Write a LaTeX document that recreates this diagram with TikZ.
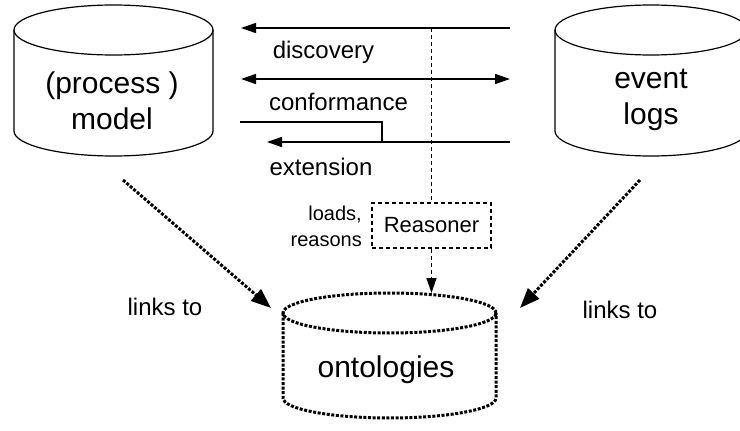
\documentclass[tikz,border=0pt]{standalone}
\usepackage{fontspec}
\setmainfont{Liberation Sans}
\usetikzlibrary{arrows.meta}
\newcommand{\drawcyl}[6]{%
  \draw[#1] (#2,#3) ellipse[x radius=#5pt, y radius=#6pt];
  \draw[#1] (#2-#5,#3) -- (#2-#5,#4) arc[start angle=180,end angle=360,x radius=#5pt,y radius=#6pt] -- (#2+#5,#3);
}
\tikzset{
  solidline/.style={line width=1.5pt, draw=black},
  thinhead/.style={-{Triangle[length=15pt,width=10pt]}},
  dashline/.style={line width=1.5pt, dash pattern=on 4pt off 3pt},
  dotline/.style={line width=3pt, dash pattern=on 3pt off 1.6pt},
  bighead/.style={-{Triangle[length=20pt,width=15pt]}},
  bigtext/.style={font=\fontsize{30}{36}\selectfont, align=center, inner sep=0pt},
  lbl/.style={font=\fontsize{24}{28}\selectfont, inner sep=0pt},
  smalllbl/.style={font=\fontsize{20}{26}\selectfont, inner sep=0pt},
  reasonerbox/.style={draw, dashline, font=\fontsize{22}{26}\selectfont, minimum width=119pt, minimum height=45pt, inner sep=0pt}
}
\begin{document}
\begin{tikzpicture}[x=1pt,y=1pt]
\useasboundingbox (0,0) rectangle (740,-431);
\clip (0,0) rectangle (740,-431);
% cylinders
\drawcyl{solidline, line width=1.2pt}{113.5}{-30}{-131}{99.5}{25}
\drawcyl{solidline, line width=1.2pt}{651}{-30}{-131}{96}{25}
\drawcyl{dotline}{389.5}{-313}{-398}{106.5}{20}
\node[bigtext] (pm) at (112,-100.5) {(process )\\model};
\node[bigtext] (el) at (651,-100) {event\\logs};
\node[bigtext] (on) at (386,-370) {ontologies};
% arrows between
\coordinate (d1) at (510,-28);
\coordinate (d2) at (241,-28);
\draw[solidline, thinhead] (d1) -- (d2);
\node[lbl] (disc) at (323.5,-52) {discovery};
\coordinate (c1) at (241,-79);
\coordinate (c2) at (510,-79);
\draw[solidline, {Triangle[length=15pt,width=10pt]}-{Triangle[length=15pt,width=10pt]}] (c1) -- (c2);
\node[lbl] (conf) at (338.5,-102) {conformance};
\coordinate (f1) at (240,-122);
\coordinate (f2) at (382,-122);
\coordinate (f3) at (382,-142);
\draw[solidline] (f1) -- (f2) -- (f3);
\coordinate (e1) at (510,-142);
\coordinate (e2) at (267,-142);
\draw[solidline, thinhead] (e1) -- (e2);
\node[lbl] (ext) at (321,-167) {extension};
% reasoner
\node[reasonerbox] (rs) at (431.5,-225.5) {Reasoner};
\coordinate (tap) at (431.5,-28);
\draw[dashline] (tap) -- (rs.north);
\coordinate (ot) at (431.5,-293);
\draw[dashline, thinhead] (rs.south) -- (ot);
\node[smalllbl, align=right, anchor=east] (lr) at (362,-226) {loads,\\reasons};
% links
\coordinate (l1) at (123,-180);
\coordinate (l2) at (271,-308);
\draw[dotline, bighead] (l1) -- (l2);
\node[lbl] (lt1) at (165,-307) {links to};
\coordinate (r1) at (640,-180);
\coordinate (r2) at (520,-308);
\draw[dotline, bighead] (r1) -- (r2);
\node[lbl] (lt2) at (620,-310) {links to};
\end{tikzpicture}
\end{document}
